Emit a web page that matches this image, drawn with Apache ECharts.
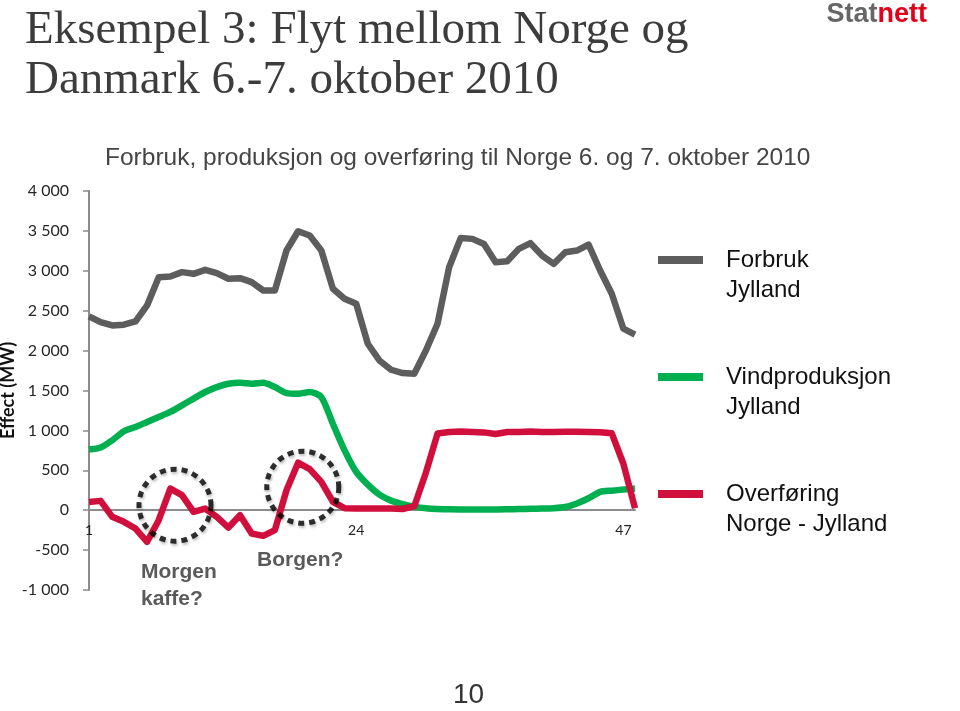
<!DOCTYPE html>
<html>
<head>
<meta charset="utf-8">
<script src="https://cdn.jsdelivr.net/npm/echarts@6/dist/echarts.min.js"></script>
<style>
html,body{margin:0;padding:0;background:#fff;}
#c{width:960px;height:711px;}
</style>
</head>
<body>
<div id="c"></div>
<script>
// ---- data ----
var hours = ['1','2','3','4','5','6','7','8','9','10','11','12','13','14','15','16','17','18','19','20','21','22','23','24',
             '25','26','27','28','29','30','31','32','33','34','35','36','37','38','39','40','41','42','43','44','45','46','47','48'];
var forbruk = [2430,2357,2315,2324,2365,2566,2920,2928,2983,2962,3012,2970,2900,2908,2858,2753,2753,3254,3496,3442,3254,2774,2649,2587,
               2086,1877,1760,1718,1710,2002,2336,3045,3412,3400,3337,3108,3120,3275,3346,3191,3087,3233,3254,3329,3004,2712,2274,2199];
var vind = [760,785,876,989,1043,1106,1168,1231,1314,1398,1481,1543,1585,1597,1585,1597,1543,1468,1460,1481,1418,1080,750,480,
            320,195,120,75,45,25,15,12,10,10,10,10,12,15,18,20,25,40,85,150,229,245,258,271];
var overforing = [104,117,-83,-146,-230,-396,-125,271,188,-21,21,-83,-217,-63,-292,-321,-250,250,595,515,355,104,25,20,
                  20,20,20,15,50,470,960,980,985,980,975,955,980,980,985,980,980,982,982,980,978,963,582,25];
var seriesNames = ['Forbruk\nJylland', 'Vindproduksjon\nJylland', 'Overføring\nNorge - Jylland'];
// annotation circles: [hour index position, MW]
var circles = [[7.4, 63], [18.4, 288]];
var yTicks = {min: -1000, max: 4000, interval: 500};

var chart = echarts.init(document.getElementById('c'), null, {renderer: 'canvas'});

function fmtThousands(v) {
  var s = Math.abs(v).toString();
  var out = s.length > 3 ? s.slice(0, s.length - 3) + ' ' + s.slice(-3) : s;
  return (v < 0 ? '-' : '') + out;
}

var gridTop = 191, gridBottom = 121, plotH = 711 - gridTop - gridBottom;
// pixel offset that puts the category axis on the zero line
var zeroOffset = -plotH * (0 - yTicks.min) / (yTicks.max - yTicks.min);

var option = {
  backgroundColor: '#ffffff',
  animation: false,
  title: [
    {
      text: 'Eksempel 3: Flyt mellom Norge og\nDanmark 6.-7. oktober 2010',
      left: 25, top: 6, padding: 0,
      textStyle: {fontFamily: 'Liberation Serif', fontSize: 47, fontWeight: 'normal', color: '#3c3c3c', lineHeight: 50}
    },
    {
      text: '{a|Stat}{b|nett}',
      right: 33, top: 1, padding: 0,
      textStyle: {
        rich: {
          a: {fontFamily: 'Liberation Sans', fontSize: 27, fontWeight: 'bold', color: '#666666'},
          b: {fontFamily: 'Liberation Sans', fontSize: 27, fontWeight: 'bold', color: '#e2001a'}
        }
      }
    },
    {
      text: 'Forbruk, produksjon og overføring til Norge 6. og 7. oktober 2010',
      left: 105, top: 146, padding: 0,
      textStyle: {fontFamily: 'Liberation Sans', fontSize: 24.5, fontWeight: 'normal', color: '#454545'}
    }
  ],
  legend: {
    orient: 'vertical',
    left: 658, top: 218, padding: 0,
    itemWidth: 45, itemHeight: 8,
    itemGap: 33,
    icon: 'rect',
    data: seriesNames,
    selectedMode: false,
    formatter: function (name) {
      return '{t| }\n' + name.split('\n').map(function (s) { return '{t|' + s + '}'; }).join('\n');
    },
    textStyle: {
      padding: [0, 0, 0, 18],
      rich: {
        t: {fontFamily: 'Liberation Sans', fontSize: 24, color: '#111111', lineHeight: 30}
      }
    }
  },
  grid: {left: 89, right: 325, top: gridTop, bottom: gridBottom, containLabel: false, outerBoundsMode: 'none'},
  xAxis: [
    {
      type: 'category',
      data: hours,
      boundaryGap: false,
      position: 'bottom',
      offset: zeroOffset,
      axisLine: {onZero: false, lineStyle: {color: '#8c8c8c', width: 2}},
      axisTick: {show: false},
      axisLabel: {interval: 22, margin: 13, fontFamily: 'Lato', fontSize: 14, color: '#222222'},
      splitLine: {show: false}
    },
    {
      type: 'value', min: 0, max: 47, show: false
    }
  ],
  yAxis: {
    type: 'value',
    min: yTicks.min, max: yTicks.max, interval: yTicks.interval,
    name: 'Effect (MW)',
    nameLocation: 'middle',
    nameRotate: 90,
    nameGap: 72,
    nameMoveOverlap: false,
    nameTextStyle: {fontFamily: 'Lato', fontSize: 18, fontWeight: 'bold', color: '#111111'},
    axisLine: {show: true, lineStyle: {color: '#8c8c8c', width: 2}},
    axisTick: {show: true, length: 6, lineStyle: {color: '#8c8c8c', width: 1.5}},
    axisLabel: {margin: 20, fontFamily: 'Lato', fontSize: 16, color: '#262626', formatter: fmtThousands},
    splitLine: {show: false}
  },
  series: [
    {
      name: seriesNames[0], type: 'line', data: forbruk, showSymbol: false, symbol: 'none',
      lineStyle: {color: '#5d5d5d', width: 6.5, join: 'round'}, itemStyle: {color: '#5d5d5d'}, z: 3
    },
    {
      name: seriesNames[1], type: 'line', data: vind, showSymbol: false, symbol: 'none', smooth: 0.25,
      lineStyle: {color: '#00b050', width: 6.5, join: 'round'}, itemStyle: {color: '#00b050'}, z: 2
    },
    {
      name: seriesNames[2], type: 'line', data: overforing, showSymbol: false, symbol: 'none',
      lineStyle: {color: '#d10f3c', width: 6.5, join: 'round'}, itemStyle: {color: '#d10f3c'}, z: 4
    },
    {
      type: 'scatter', xAxisIndex: 1, data: circles, symbol: 'circle', symbolSize: 72, z: 5,
      silent: true,
      itemStyle: {
        color: 'rgba(0,0,0,0)', borderColor: '#000000', borderWidth: 5, borderType: [6, 5],
        shadowBlur: 3, shadowColor: 'rgba(0,0,0,0.35)', shadowOffsetX: 1, shadowOffsetY: 2
      }
    }
  ],
  graphic: [
    {
      type: 'text', left: 141, top: 559,
      style: {text: 'Morgen\nkaffe?', font: 'bold 21px "Liberation Sans"', fill: '#5a5a5a', lineHeight: 27}
    },
    {
      type: 'text', left: 257, top: 550,
      style: {text: 'Borgen?', font: 'bold 21px "Liberation Sans"', fill: '#5a5a5a'}
    },
    {
      type: 'text', left: 453, top: 681,
      style: {text: '10', font: '28px "Liberation Sans"', fill: '#333333'}
    }
  ]
};
chart.setOption(option);
</script>
</body>
</html>
